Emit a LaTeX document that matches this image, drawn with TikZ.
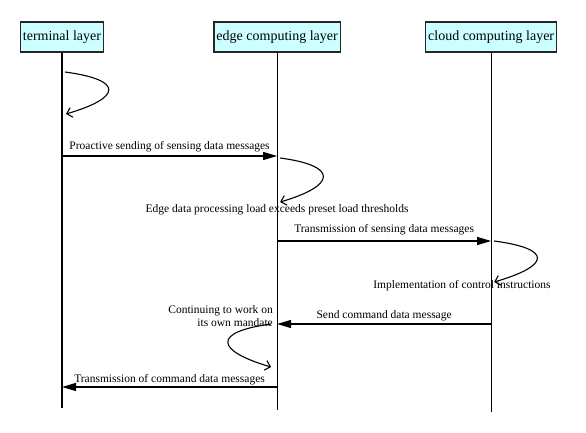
\documentclass[tikz,border=0pt]{standalone}
\usepackage{fontspec}
\setmainfont{Liberation Serif}
\usepackage{xcolor}
\usepackage{tikz}
\usetikzlibrary{arrows.meta, positioning}

\definecolor{layercyan}{RGB}{204,255,255}

\begin{document}
\begin{tikzpicture}[
        x=1pt, y=-1pt,
        node distance=1cm and 109pt,
        layer/.style={rectangle, draw=black!85, line width=1.4pt, fill=layercyan, font=\fontsize{14}{16}\selectfont, minimum height=30pt, inner xsep=2.5pt, inner ysep=0pt},
        lifeline/.style={draw, line width=1.2pt},
        msg/.style={draw, line width=1.2pt, -{Triangle[length=14pt, width=8pt]}},
        selfloop/.style={draw, line width=1.1pt, -{Straight Barb[length=5pt, width=10pt]}},
        lbl/.style={font=\fontsize{11.5}{13}\selectfont, inner sep=1pt}
    ]

    \useasboundingbox [fill=white] (0,0) rectangle (586,433);

    % Layers
    \node [layer] (term) at (62,37) {terminal layer};
    \node [layer, right=of term] (edge) {edge computing layer};
    \node [layer, right=84pt of edge] (cloud) {cloud computing layer};

    % Lifeline ends
    \coordinate (term-end) at (term |- 0,408);
    \coordinate (edge-end) at (edge |- 0,410);
    \coordinate (cloud-end) at (cloud |- 0,412);

    % Message points
    \coordinate (t1) at (term |- 0,156);
    \coordinate (e1) at (edge |- 0,156);
    \coordinate (e2) at (edge |- 0,241);
    \coordinate (c2) at (cloud |- 0,241);
    \coordinate (c3) at (cloud |- 0,324);
    \coordinate (e3) at (edge |- 0,324);
    \coordinate (e4) at (edge |- 0,387);
    \coordinate (t4) at (term |- 0,387);

    % Self loop points
    \coordinate (tl-a) at (term |- 0,72);
    \coordinate (tl-b) at (term |- 0,114);
    \coordinate (el-a) at (edge |- 0,158);
    \coordinate (el-b) at (edge |- 0,202);
    \coordinate (cl-a) at (cloud |- 0,241);
    \coordinate (cl-b) at (cloud |- 0,282);
    \coordinate (ml-a) at (edge |- 0,324);
    \coordinate (ml-b) at (edge |- 0,367);

    % Lifelines
    \path [lifeline] (term) -- (term-end);
    \path [lifeline] (edge) -- (edge-end);
    \path [lifeline] (cloud) -- (cloud-end);

    % Self loops
    \path [selfloop] ([xshift=3pt]tl-a) .. controls +(60,8) and +(55,-16) .. ([xshift=4pt]tl-b);
    \path [selfloop] ([xshift=3pt]el-a) .. controls +(60,8) and +(55,-16) .. ([xshift=3pt]el-b);
    \path [selfloop] ([xshift=3pt]cl-a) .. controls +(60,8) and +(55,-16) .. ([xshift=3pt]cl-b);
    \path [selfloop] ([xshift=-6pt]ml-a) .. controls +(-60,8) and +(-55,-16) .. ([xshift=-6pt]ml-b);

    % Loop labels
    \node [lbl] (overload) at (edge |- 0,210) {Edge data processing load exceeds preset load thresholds};
    \node [lbl] (control) at (462,286) {Implementation of control instructions};
    \node [lbl, align=right, anchor=east] (mandate) at (274,316) {Continuing to work on\\its own mandate};

    % Messages
    \path [msg] (t1) -- node [lbl, above=2pt] {Proactive sending of sensing data messages} (e1);
    \path [msg] (e2) -- node [lbl, above=4pt] {Transmission of sensing data messages} (c2);
    \path [msg] (c3) -- node [lbl, above=1pt] {Send command data message} (e3);
    \path [msg] (e4) -- node [lbl, above=0pt] {Transmission of command data messages} (t4);

\end{tikzpicture}
\end{document}
